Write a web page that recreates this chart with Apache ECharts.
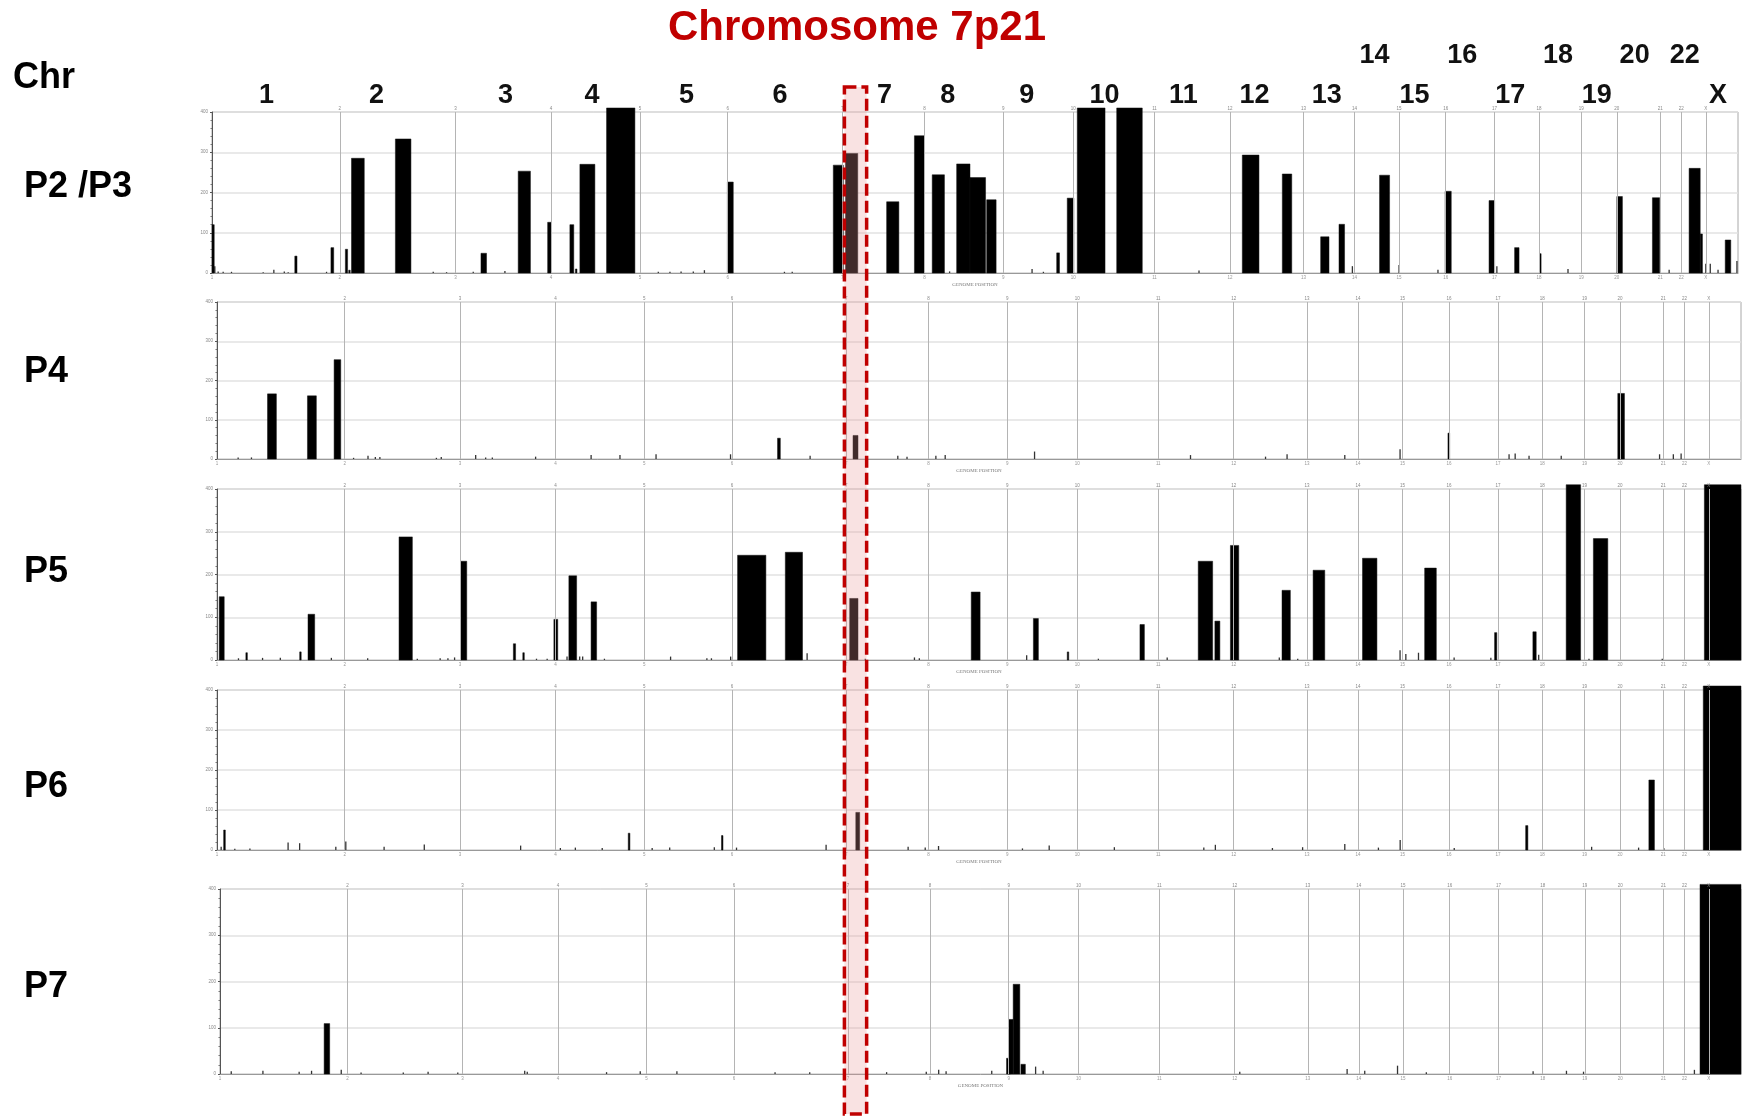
<!DOCTYPE html>
<html>
<head>
<meta charset="utf-8">
<script src="https://cdn.jsdelivr.net/npm/echarts@6/dist/echarts.min.js"></script>
<style>
html,body{margin:0;padding:0;background:#fff;}
#main{width:1743px;height:1117px;}
</style>
</head>
<body>
<div id="main"></div>
<script>
// 染色体边界（基因组位置单位）
var chrNames = ['1','2','3','4','5','6','7','8','9','10','11','12','13','14','15','16','17','18','19','20','21','22','X'];
var chrBounds = [0,115,219,305,385,464,567,641,712,775,848,916,982,1028,1068,1110,1154,1194,1232,1264,1303,1322,1344,1373];
var panelNames = ['P2 /P3','P4','P5','P6','P7'];

// 顶部染色体标签
var topLabelsLow = ['1','2','3','4','5','6','7','8','9','10','11','12','13','15','17','19','X'];
var topLabelsHigh = ['14','16','18','20','22'];

// 每个样本的片段 [起点, 终点, 高度]
var p23Bars = [[0,2,120],[74.5,76.5,42],[107,109.5,63],[120,122,59],[123,124,7],[125.5,137,285],[165,179,333],
	[242,247,49],[275.5,286.5,253],[302,305,126],[322,325.5,120],[327,328,10],[331,344.5,270],[355,380.5,410],
	[463.7,469,226],[559,568,268],[570,581,297],[607,618,177],[632,641,341],[648,659,244],[670,682,271],[682,696,237],[697,705.5,182],
	[760,762.5,50],[769.5,775.4,186],[778.5,803.5,410],[814,837,410],[927,942,293],[963,971.5,246],
	[997.5,1005,90],[1014,1019,121],[1050.5,1059.5,243],[1109.5,1115,203],[1149,1154,180],[1172,1176,63],
	[1194.5,1195.5,48],[1264,1269,190],[1296,1302.5,187],[1329,1339,260],[1339,1341,97],[1361.5,1366.5,82]];
var p4Bars = [[45.5,53.5,166],[81.5,89.5,161],[105.5,111.5,253],[505,507.5,53],[573,577.5,60],[1109,1110.5,66],[1262,1268,167]];
var p5Bars = [[2,6.5,148],[26,27,17],[74.5,75.5,19],[82,88,107],[164,176,288],[219.5,225,231],[267,269,38],[275.5,276.5,17],
	[303.5,307,95],[317,324,197],[337,342,136],[469,494.5,245],[512,527.5,252],[570,577.5,144],[679.5,687.5,159],
	[735.5,740,97],[766,767,19],[831.5,835.5,83],[884,897,231],[899,903.5,91],[913,920.5,268],[959.5,967,163],
	[987.5,998,210],[1032,1045,238],[1088,1098.5,215],[1151,1153,64],[1185.5,1188.5,66],[1215.5,1228.5,410],
	[1240,1253,284],[1340,1373,410]];
var p6Bars = [[6,7.5,50],[370.5,372,42],[454.5,455.5,36],[575.5,579,94],[1179,1181,61],[1290,1295,175],[1339,1373,410]];
var p7Bars = [[94,99,109],[710,713.5,34],[712,716,118],[716,722,194],[723,727,21],[1336,1373,410]];

// 细小尖峰 [位置, 高度]
var p23Spikes = [[2.5,17],[5.5,4],[10,3],[17.5,3],[46,2],[55.6,8],[65,4],[68.5,2],[103,3],[199,3],[211,2],[235,3],[263.5,5],
	[401.5,3],[412,3],[422,4],[433,4],[443,7],[515,3],[522,3],[663.6,4],[737.8,10],[748,3],[888,6],[1026,17],[1068,20],
	[1103,8],[1156,17],[1220,10],[1311,8],[1344,23],[1348,23],[1355,8],[1372,30]];
var p4Spikes = [[19,4],[31,4],[123,3],[136,8],[142.6,5],[146.7,5],[197.6,3],[202,5],[233,10],[242,4],[248,4],[287,6],[337,10],
	[363,10],[395.5,12],[462.6,12],[534.3,8],[613.3,8],[621.6,6],[647.6,8],[656,10],[736.5,19],[877,10],[944.6,6],[964,12],
	[1016,10],[1065.8,25],[1164,12],[1169.5,14],[1182,8],[1211,8],[1299.6,12],[1312,12],[1319,14]];
var p5Spikes = [[19.3,4],[41,5],[57,5],[103,5],[135.7,4],[180.4,3],[201,4],[208,4],[214,6],[287.8,3],[297.4,3],[315.3,8],
	[326.7,8],[329.4,8],[349,3],[408.6,8],[441.3,4],[445.4,4],[462.7,8],[531.6,16],[584,3],[628.3,6],[632.7,4],[729.4,11],
	[794,3],[856,6],[957,6],[973.6,3],[1065.8,23],[1071,14],[1082.4,17],[1114.5,6],[1147.6,5],[1190.7,12],[1236,3],[1302,3]];
var p6Spikes = [[3.7,8],[16,3],[29.6,4],[64,19],[74.4,17],[107,8],[116,21],[150.5,8],[186.7,14],[273.5,11],[309.3,5],[322.8,6],
	[347,5],[392,5],[407.8,6],[448,7],[468,6],[548.7,13],[622.6,8],[638,6],[650,10],[725.6,4],[749.7,11],[808.4,7],[889,6],
	[899.4,13],[950.8,5],[978,7],[1016,15],[1046.3,6],[1065.9,25],[1114.6,5],[1238.4,8],[1280.7,6],[1303.4,5]];
var p7Spikes = [[10.1,6],[38.7,7],[71.4,5],[82.6,7],[109.4,9],[127.3,3],[165.4,3],[187.8,5],[214.6,3],[275,7],[277.3,5],
	[348.9,4],[379.3,6],[412.4,6],[501,4],[532.3,4],[601.7,4],[637.5,5],[648.7,9],[655.4,6],[696.6,7],[736.2,16],[743,7],
	[920.5,5],[1017.4,11],[1033.3,7],[1062.9,18],[1088.9,4],[1185.3,6],[1215.4,7],[1230.8,5],[1330.9,9]];

var allBars = [p23Bars, p4Bars, p5Bars, p6Bars, p7Bars];
var allSpikes = [p23Spikes, p4Spikes, p5Spikes, p6Spikes, p7Spikes];

// 版面
var panelBoxes = [
	{left:212, top:112, width:1526, height:161, labelY:187},
	{left:217, top:302, width:1524, height:157, labelY:372},
	{left:217, top:489, width:1524, height:171, labelY:572},
	{left:217, top:690, width:1524, height:160, labelY:787},
	{left:220, top:889, width:1521, height:185, labelY:987}
];
var topLabelsLowPos = [49,148,264,342,427,511,605,662,733,803,874,938,1003,1082,1168,1246,1355];
var topLabelsHighPos = [1046,1125,1211,1280,1325];
var regionPos = [569, 589]; // 7p21

var FONT = '"Liberation Sans", Arial, sans-serif';

function drawBar(params, api){
	var a = api.coord([api.value(0), 0]);
	var b = api.coord([api.value(1), api.value(2)]);
	return {
		type:'rect',
		shape:{x:a[0], y:b[1], width:Math.max(b[0]-a[0], 1.5), height:a[1]-b[1]},
		style:{fill:'#000', stroke:'#111', lineWidth:0.5}
	};
}
function drawSpike(params, api){
	var a = api.coord([api.value(0), 0]);
	var b = api.coord([api.value(0), api.value(1)]);
	return {
		type:'rect',
		shape:{x:a[0]-0.6, y:b[1], width:1.3, height:a[1]-b[1]},
		style:{fill:'#333'}
	};
}

var grids = [], xAxes = [], yAxes = [], series = [];
for(var i=0;i<5;i++){
	var pb = panelBoxes[i];
	grids.push({left:pb.left, top:pb.top, width:pb.width, height:pb.height,
		show:true, borderColor:'#a8a8a8', borderWidth:1, backgroundColor:'#fff'});
	xAxes.push({
		type:'value', gridIndex:i, min:0, max:1373,
		name:'GENOME POSITION', nameLocation:'middle', nameGap:9,
		nameTextStyle:{fontSize:5, color:'#777', fontFamily:'serif'},
		splitLine:{show:false},
		axisLine:{lineStyle:{color:'#999', width:1}},
		axisTick:{show:false},
		axisLabel:{show:true, customValues:chrBounds.slice(0,23), fontSize:4.5, color:'#999', margin:2,
			formatter:function(v){ var k = chrBounds.indexOf(v); return k>=0 ? chrNames[k] : ''; }}
	});
	yAxes.push({
		type:'value', gridIndex:i, min:0, max:400, interval:100,
		splitLine:{show:true, lineStyle:{color:'#e2e2e2', width:1.5}},
		axisLine:{show:true, lineStyle:{color:'#555', width:1}},
		axisTick:{show:true, length:2, lineStyle:{color:'#555'}},
		minorTick:{show:true, splitNumber:5, length:1.5, lineStyle:{color:'#777'}},
		axisLabel:{fontSize:4.5, color:'#888', margin:4}
	});
	var mlData = [];
	for(var k=1;k<chrBounds.length-1;k++){
		mlData.push({xAxis:chrBounds[k], name:chrNames[k]});
	}
	series.push({
		type:'custom', xAxisIndex:i, yAxisIndex:i, renderItem:drawSpike,
		data:allSpikes[i], encode:{x:0, y:1}, silent:true, z:3,
		markLine:{
			silent:true, symbol:'none', animation:false,
			lineStyle:{color:'#b4b4b4', width:1, type:'solid'},
			label:{show:true, position:'end', formatter:'{b}', fontSize:4.5, color:'#888', distance:1},
			data:mlData
		}
	});
	series.push({
		type:'custom', xAxisIndex:i, yAxisIndex:i, renderItem:drawBar,
		data:allBars[i], encode:{x:[0,1], y:2}, silent:true, clip:false, z:4
	});
}

var myChart = echarts.init(document.getElementById('main'));
myChart.setOption({
	animation:false,
	backgroundColor:'#fff',
	grid:grids, xAxis:xAxes, yAxis:yAxes, series:series
});

// 文字与7p21框
var graphics = [];
graphics.push({type:'text', x:857, y:28, z:20, style:{text:'Chromosome 7p21', fill:'#c00000',
	font:'bold 42px '+FONT, textAlign:'center', textVerticalAlign:'middle'}});
graphics.push({type:'text', x:13, y:78, z:20, style:{text:'Chr', fill:'#000',
	font:'bold 36px '+FONT, textAlign:'left', textVerticalAlign:'middle'}});
for(var i=0;i<5;i++){
	graphics.push({type:'text', x:24, y:panelBoxes[i].labelY, z:20, style:{text:panelNames[i], fill:'#000',
		font:'bold 36px '+FONT, textAlign:'left', textVerticalAlign:'middle'}});
}
for(var j=0;j<topLabelsLow.length;j++){
	var px = myChart.convertToPixel({xAxisIndex:0}, topLabelsLowPos[j]);
	graphics.push({type:'text', x:px, y:96, z:20, style:{text:topLabelsLow[j], fill:'#111',
		font:'bold 27px '+FONT, textAlign:'center', textVerticalAlign:'middle'}});
}
for(var j=0;j<topLabelsHigh.length;j++){
	var px = myChart.convertToPixel({xAxisIndex:0}, topLabelsHighPos[j]);
	graphics.push({type:'text', x:px, y:56, z:20, style:{text:topLabelsHigh[j], fill:'#111',
		font:'bold 27px '+FONT, textAlign:'center', textVerticalAlign:'middle'}});
}
var rx0 = myChart.convertToPixel({xAxisIndex:0}, regionPos[0]);
var rx1 = myChart.convertToPixel({xAxisIndex:0}, regionPos[1]);
graphics.push({type:'rect', z:30, shape:{x:rx0, y:87, width:rx1-rx0, height:1027},
	style:{fill:'rgba(235,150,150,0.28)', stroke:'#c00000', lineWidth:3.5, lineDash:[12,5]}});
myChart.setOption({graphic:graphics});
</script>
</body>
</html>
